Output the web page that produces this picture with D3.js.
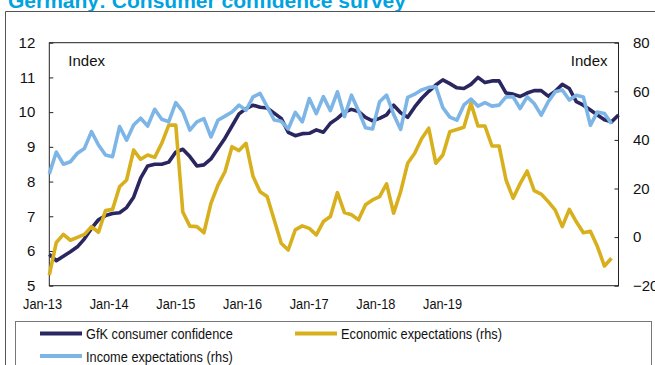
<!DOCTYPE html>
<html>
<head>
<meta charset="utf-8">
<script src="https://cdn.jsdelivr.net/npm/d3@7"></script>
<style>
  body { margin: 0; background: #fff; }
  text { font-family: "Liberation Sans", Arial, sans-serif; fill: #111; }
</style>
</head>
<body>
<div id="chart"></div>
<script>
// Data (monthly, Jan-13 onwards)
var confidence = [5.9, 5.72, 5.85, 5.98, 6.12, 6.35, 6.65, 6.9, 7.02, 7.08, 7.1, 7.25,
  7.55, 8.1, 8.45, 8.5, 8.5, 8.56, 8.85, 8.93, 8.72, 8.45, 8.48, 8.65,
  8.95, 9.25, 9.6, 9.95, 10.1, 10.2, 10.14, 10.12, 9.97, 9.82, 9.42, 9.32,
  9.38, 9.39, 9.49, 9.42, 9.68, 9.82, 10.0, 10.08, 10.02, 9.85, 9.75, 9.82,
  9.92, 10.2, 9.98, 9.85, 10.15, 10.4, 10.6, 10.78, 10.93, 10.82, 10.7, 10.68,
  10.8, 11.0, 10.85, 10.9, 10.9, 10.55, 10.52, 10.45, 10.55, 10.62, 10.62, 10.46,
  10.6, 10.8, 10.68, 10.3, 10.2, 10.06, 9.92, 9.78, 9.72, 9.92];

var economic = [-15.6, -2.2, 1.1, -1.3, -0.1, 1.1, 4.3, 2.0, 10.9, 11.4, 20.7, 23.5,
  35.8, 32, 33.8, 32.8, 38.6, 46.1, 46.1, 10.3, 4.5, 4.3, 1.8, 13.9,
  21.4, 26.9, 37.2, 35.6, 38.6, 24.9, 18.7, 16.7, 7.1, -2.5, -5.3, 3.0,
  4.6, 3.6, 0.9, 6.4, 8.5, 18.3, 10.1, 9.2, 7.1, 13.3, 15.3, 16.7,
  21.9, 9.8, 18.7, 30.4, 34.5, 40.6, 44.8, 30.4, 33.8, 43.4, 44.3, 45.2,
  55.1, 45.7, 45.7, 37.5, 37.5, 23.5, 16, 22, 27.2, 19.1, 17.7, 14.6,
  11.1, 4.3, 11.4, 6.3, 1.8, 2.4, -3.9, -11.9, -8.7];

var income = [26, 35, 30, 31, 34.5, 36.5, 43.4, 37.9, 33.8, 33.1, 45.5, 39.9,
  46.1, 48.9, 45.7, 52.6, 48.5, 47.5, 55.3, 51.6, 44, 47.4, 48.8, 41.2,
  48.1, 49.8, 51.5, 54.3, 52.2, 57.7, 59.1, 53.7, 48.2, 47.7, 44.5, 51.3,
  47.4, 57, 50.8, 57.8, 52, 59.8, 49.6, 58.4, 52, 45, 44.5, 55.7,
  58.4, 50.5, 44.3, 57.5, 58.8, 60.6, 61.6, 61.9, 53.3, 49.4, 48.1, 54.4,
  56.8, 53.9, 55.3, 53.9, 54.3, 57.7, 57.7, 52.9, 57.7, 55, 50.2, 55.7,
  59.8, 60.5, 56.4, 58.4, 57.7, 46, 51.5, 50.9, 46.7];

var months = d3.timeMonth.range(new Date(2013, 0, 1), new Date(2019, 10, 1))
  .map(d3.timeFormat("%b-%y"));

var xLabels = ["Jan-13", "Jan-14", "Jan-15", "Jan-16", "Jan-17", "Jan-18", "Jan-19"];
var leftTicks = [5, 6, 7, 8, 9, 10, 11, 12];
var rightTicks = [-20, 0, 20, 40, 60, 80];

var series = [
  {name: "GfK consumer confidence", values: confidence, axis: "left", color: "#2a2660"},
  {name: "Economic expectations (rhs)", values: economic, axis: "right", color: "#d8b01e"},
  {name: "Income expectations (rhs)", values: income, axis: "right", color: "#7db5e6"}
];

// SVG area
var svgWidth = 655;
var svgHeight = 365;
var margin = {top: 42.7, right: 36.5, bottom: 79.3, left: 49.3};
var chartWidth = svgWidth - margin.left - margin.right;
var chartHeight = svgHeight - margin.top - margin.bottom;

var svg = d3.select("#chart")
  .append("svg")
  .attr("width", svgWidth)
  .attr("height", svgHeight);

// title (cut off at the top in the original)
svg.append("text")
  .attr("x", 8)
  .attr("y", 8)
  .style("font-size", "21px")
  .style("font-weight", "bold")
  .style("fill", "#00a3e0")
  .text("Germany: Consumer confidence survey");

// outer frame
svg.append("path")
  .attr("d", "M5.5,365 V11.5 H655")
  .attr("fill", "none")
  .attr("stroke", "#555")
  .attr("stroke-width", 1);

var chartGroup = svg.append("g")
  .attr("transform", `translate(${margin.left}, ${margin.top})`);

// scales
var xScale = d3.scalePoint().domain(months).range([0, chartWidth]);
var yLeft = d3.scaleLinear().domain([5, 12]).range([chartHeight, 0]);
var yRight = d3.scaleLinear().domain([-20, 80]).range([chartHeight, 0]);
// the category labels sit on their own spacing in the original
var labelScale = d3.scalePoint().domain(xLabels).range([-7.3, 392.7]);

// plot frame
chartGroup.append("rect")
  .attr("width", chartWidth)
  .attr("height", chartHeight)
  .attr("fill", "none")
  .attr("stroke", "#222")
  .attr("stroke-width", 1);

// axes
var leftAxis = d3.axisLeft(yLeft).tickValues(leftTicks).tickFormat(d3.format("d"))
  .tickSize(-4).tickPadding(14);
var rightAxis = d3.axisRight(yRight).tickValues(rightTicks).tickFormat(d3.format("d"))
  .tickSize(-4).tickPadding(14.5);
var bottomAxis = d3.axisBottom(labelScale).tickSize(0).tickPadding(0);

var gl = chartGroup.append("g").call(leftAxis);
var gr = chartGroup.append("g").attr("transform", `translate(${chartWidth},0)`).call(rightAxis);
var gb = chartGroup.append("g").attr("transform", `translate(0,${chartHeight + 12})`).call(bottomAxis);

[gl, gr, gb].forEach(function(g) {
  g.select(".domain").remove();
  g.selectAll("line").attr("stroke", "#222");
  g.selectAll("text").style("font-size", "15px").style("font-family", null).attr("fill", "#111");
});
gb.selectAll("text").classed("narrow", true).style("font-size", "15.5px");

// "Index" labels
chartGroup.append("text").attr("x", 19).attr("y", 23).style("font-size", "15px").text("Index");
chartGroup.append("text").attr("x", chartWidth - 11).attr("y", 23)
  .attr("text-anchor", "end").style("font-size", "15px").text("Index");

// lines
series.forEach(function(s) {
  var yScale = s.axis === "left" ? yLeft : yRight;
  var drawLine = d3.line()
    .x(function(d, i) { return xScale(months[i]); })
    .y(function(d) { return yScale(d); });
  chartGroup.append("path")
    .attr("d", drawLine(s.values))
    .attr("fill", "none")
    .attr("stroke", s.color)
    .attr("stroke-width", 3.6)
    .attr("stroke-linejoin", "round");
});

// legend
var legend = svg.append("g");
legend.append("rect")
  .attr("x", 15.5).attr("y", 321.5)
  .attr("width", 636).attr("height", 60)
  .attr("fill", "none")
  .attr("stroke", "#777");

var legendPos = [[40, 333.5], [295, 333.5], [40, 356]];
series.forEach(function(s, i) {
  var p = legendPos[i];
  legend.append("line")
    .attr("x1", p[0]).attr("x2", p[0] + 42)
    .attr("y1", p[1]).attr("y2", p[1])
    .attr("stroke", s.color)
    .attr("stroke-width", 4);
  legend.append("text")
    .attr("class", "narrow")
    .attr("x", p[0] + 46)
    .attr("y", p[1] + 5.5)
    .style("font-size", "15.5px")
    .text(s.name);
});

// the original uses a condensed face: squeeze these labels to match
svg.selectAll("text.narrow").each(function() {
  var w = this.getComputedTextLength();
  d3.select(this)
    .attr("textLength", w * 0.823)
    .attr("lengthAdjust", "spacingAndGlyphs");
});
</script>
</body>
</html>
